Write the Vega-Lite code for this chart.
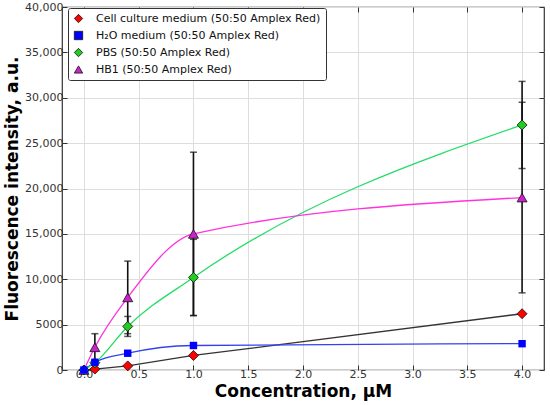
{
  "$schema": "https://vega.github.io/schema/vega-lite/v6.json",
  "width": 482,
  "height": 363,
  "autosize": "none",
  "padding": {"left": 62, "top": 7, "right": 6, "bottom": 35},
  "config": {
    "font": "DejaVu Sans",
    "view": {"stroke": "#333333", "strokeWidth": 1.2},
    "axis": {
      "labelFont": "DejaVu Sans",
      "labelFontSize": 11,
      "labelColor": "#333333",
      "titleFont": "DejaVu Sans",
      "titleFontSize": 17,
      "titleFontWeight": "bold",
      "titleColor": "#000000",
      "gridColor": "#dddddd",
      "gridWidth": 1,
      "tickColor": "#333333",
      "tickSize": -5,
      "domain": false
    }
  },
  "data": {
    "values": [
      {"series": "Cell culture medium (50:50 Amplex Red)", "x": 0, "y": 0},
      {"series": "Cell culture medium (50:50 Amplex Red)", "x": 0.1, "y": 100},
      {"series": "Cell culture medium (50:50 Amplex Red)", "x": 0.4, "y": 450},
      {"series": "Cell culture medium (50:50 Amplex Red)", "x": 1, "y": 1600},
      {"series": "Cell culture medium (50:50 Amplex Red)", "x": 4, "y": 6200},
      {"series": "H₂O medium (50:50 Amplex Red)", "x": 0, "y": 0},
      {"series": "H₂O medium (50:50 Amplex Red)", "x": 0.1, "y": 850},
      {"series": "H₂O medium (50:50 Amplex Red)", "x": 0.4, "y": 1850},
      {"series": "H₂O medium (50:50 Amplex Red)", "x": 1, "y": 2700},
      {"series": "H₂O medium (50:50 Amplex Red)", "x": 4, "y": 2900},
      {"series": "PBS (50:50 Amplex Red)", "x": 0, "y": 0},
      {"series": "PBS (50:50 Amplex Red)", "x": 0.1, "y": 800, "lo": 600, "hi": 1000},
      {"series": "PBS (50:50 Amplex Red)", "x": 0.4, "y": 4800, "lo": 3700, "hi": 5900},
      {"series": "PBS (50:50 Amplex Red)", "x": 1, "y": 10200, "lo": 6000, "hi": 14400},
      {"series": "PBS (50:50 Amplex Red)", "x": 4, "y": 27000, "lo": 22200, "hi": 31800},
      {"series": "HB1 (50:50 Amplex Red)", "x": 0, "y": 0},
      {"series": "HB1 (50:50 Amplex Red)", "x": 0.1, "y": 2500, "lo": 1000, "hi": 4000},
      {"series": "HB1 (50:50 Amplex Red)", "x": 0.4, "y": 8000, "lo": 4000, "hi": 12000},
      {"series": "HB1 (50:50 Amplex Red)", "x": 1, "y": 15000, "lo": 6000, "hi": 24000},
      {"series": "HB1 (50:50 Amplex Red)", "x": 4, "y": 19000, "lo": 8500, "hi": 29500}
    ]
  },
  "layer": [
    {
      "layer": [
        {
          "transform": [{"filter": "datum.series === 'Cell culture medium (50:50 Amplex Red)'"}],
          "mark": {"type": "line", "strokeWidth": 1.3, "color": "#333333"},
          "encoding": {
            "x": {"field": "x", "type": "quantitative"},
            "y": {"field": "y", "type": "quantitative"}
          }
        },
        {
          "transform": [{"filter": "datum.series === 'H₂O medium (50:50 Amplex Red)'"}],
          "mark": {"type": "line", "strokeWidth": 1.3, "interpolate": "monotone", "color": "#3344ee"},
          "encoding": {
            "x": {"field": "x", "type": "quantitative"},
            "y": {"field": "y", "type": "quantitative"}
          }
        },
        {
          "transform": [{"filter": "datum.series === 'PBS (50:50 Amplex Red)'"}],
          "mark": {"type": "line", "strokeWidth": 1.3, "interpolate": "monotone", "color": "#22dd66"},
          "encoding": {
            "x": {"field": "x", "type": "quantitative"},
            "y": {"field": "y", "type": "quantitative"}
          }
        },
        {
          "transform": [{"filter": "datum.series === 'HB1 (50:50 Amplex Red)'"}],
          "mark": {"type": "line", "strokeWidth": 1.3, "interpolate": "monotone", "color": "#ff33dd"},
          "encoding": {
            "x": {"field": "x", "type": "quantitative"},
            "y": {"field": "y", "type": "quantitative"}
          }
        },
        {
          "transform": [{"filter": "isValid(datum.lo)"}],
          "mark": {"type": "rule", "color": "#111111", "strokeWidth": 1.6},
          "encoding": {
            "x": {"field": "x", "type": "quantitative"},
            "y": {"field": "lo", "type": "quantitative"},
            "y2": {"field": "hi"}
          }
        },
        {
          "transform": [{"filter": "isValid(datum.lo)"}],
          "mark": {"type": "tick", "orient": "horizontal", "color": "#111111", "thickness": 1.5, "size": 7},
          "encoding": {
            "x": {"field": "x", "type": "quantitative"},
            "y": {"field": "lo", "type": "quantitative"}
          }
        },
        {
          "transform": [{"filter": "isValid(datum.hi)"}],
          "mark": {"type": "tick", "orient": "horizontal", "color": "#111111", "thickness": 1.5, "size": 7},
          "encoding": {
            "x": {"field": "x", "type": "quantitative"},
            "y": {"field": "hi", "type": "quantitative"}
          }
        },
        {
          "transform": [{"filter": "datum.series !== 'H₂O medium (50:50 Amplex Red)'"}],
          "mark": {"type": "point", "filled": true, "stroke": "#111111", "strokeWidth": 0.8, "opacity": 1, "size": 100},
          "encoding": {
            "x": {
              "field": "x",
              "type": "quantitative",
              "scale": {"domain": [-0.2, 4.2], "nice": false, "zero": false},
              "axis": {
                "values": [0, 0.5, 1, 1.5, 2, 2.5, 3, 3.5, 4],
                "format": ".1f",
                "title": "Concentration, µM",
                "labelPadding": 3,
                "titlePadding": 4
              }
            },
            "y": {
              "field": "y",
              "type": "quantitative",
              "scale": {"domain": [0, 40000], "nice": false},
              "axis": {
                "values": [0, 5000, 10000, 15000, 20000, 25000, 30000, 35000, 40000],
                "labelExpr": "datum.value >= 10000 ? format(datum.value, ',') : format(datum.value, 'd')",
                "title": "Fluorescence intensity, a.u.",
                "labelPadding": 4,
                "titlePadding": 3
              }
            },
            "fill": {
              "field": "series",
              "type": "nominal",
              "scale": {
                "domain": ["Cell culture medium (50:50 Amplex Red)", "H₂O medium (50:50 Amplex Red)", "PBS (50:50 Amplex Red)", "HB1 (50:50 Amplex Red)"],
                "range": ["#ff0000", "#0000ff", "#22cc22", "#cc22cc"]
              },
              "legend": {
                "title": null,
                "orient": "none",
                "legendX": 6,
                "legendY": 1,
                "strokeColor": "#333333",
                "fillColor": "#ffffff",
                "padding": 5,
                "labelFont": "DejaVu Sans",
                "labelFontSize": 11,
                "labelColor": "#111111",
                "labelLimit": 400,
                "rowPadding": 4,
                "symbolSize": 70,
                "symbolStrokeColor": "#111111",
                "symbolStrokeWidth": 0.8,
                "labelOffset": 12,
                "cornerRadius": 2
              }
            },
            "shape": {
              "field": "series",
              "type": "nominal",
              "scale": {
                "domain": ["Cell culture medium (50:50 Amplex Red)", "H₂O medium (50:50 Amplex Red)", "PBS (50:50 Amplex Red)", "HB1 (50:50 Amplex Red)"],
                "range": ["diamond", "square", "diamond", "triangle-up"]
              }
            }
          }
        },
        {
          "transform": [{"filter": "datum.series === 'H₂O medium (50:50 Amplex Red)'"}],
          "mark": {"type": "point", "filled": true, "opacity": 1, "size": 55},
          "encoding": {
            "x": {"field": "x", "type": "quantitative"},
            "y": {"field": "y", "type": "quantitative"},
            "fill": {"field": "series", "type": "nominal"},
            "shape": {"field": "series", "type": "nominal"}
          }
        }
      ]
    },
    {
      "mark": {"type": "point", "opacity": 0},
      "encoding": {
        "x": {
          "field": "x",
          "type": "quantitative",
          "scale": {"domain": [-0.2, 4.2], "nice": false, "zero": false},
          "axis": {"orient": "top", "values": [0, 0.5, 1, 1.5, 2, 2.5, 3, 3.5, 4], "labels": false, "title": null, "grid": false}
        },
        "y": {
          "field": "y",
          "type": "quantitative",
          "scale": {"domain": [0, 40000], "nice": false},
          "axis": {"orient": "right", "values": [0, 5000, 10000, 15000, 20000, 25000, 30000, 35000, 40000], "labels": false, "title": null, "grid": false}
        }
      }
    }
  ],
  "resolve": {"scale": {"x": "independent", "y": "independent"}}
}
